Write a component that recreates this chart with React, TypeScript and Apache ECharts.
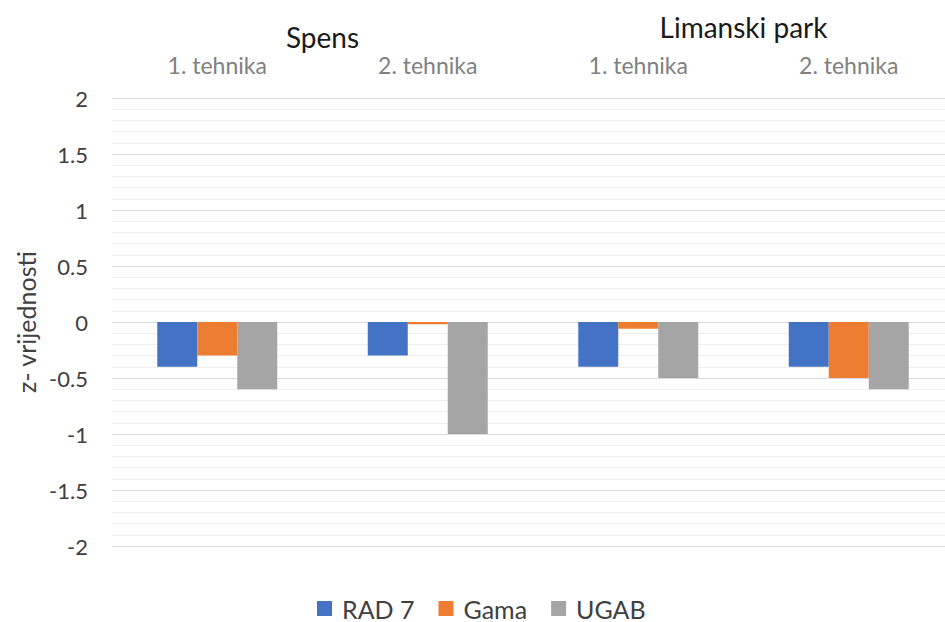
import React, { useEffect, useRef } from "react";
import * as echarts from "echarts";

const techniques = ["1. tehnika", "2. tehnika", "1. tehnika", "2. tehnika"];
const locations = ["Spens", "Limanski park"];
const rad7 = [-0.4, -0.3, -0.4, -0.4];
const gama = [-0.3, -0.02, -0.06, -0.5];
const ugab = [-0.6, -1.0, -0.5, -0.6];
const seriesNames = ["RAD 7", "Gama", "UGAB"];
const colors = ["#4472c4", "#ed7d31", "#a5a5a5"];

const FONT = "Lato";

export default function App() {
  const ref = useRef<HTMLDivElement>(null);
  useEffect(() => {
    if (!ref.current) return;
    const chart = echarts.init(ref.current, null, { renderer: "svg" });
    const data = [rad7, gama, ugab];
    chart.setOption({
      animation: false,
      textStyle: { fontFamily: FONT },
      grid: {
        left: 112,
        width: 842,
        top: 98,
        height: 448,
        containLabel: false,
        outerBoundsMode: "none",
      },
      legend: {
        top: 596,
        left: 317,
        padding: 0,
        itemWidth: 15,
        itemHeight: 15,
        itemGap: 24,
        icon: "rect",
        textStyle: {
          fontFamily: FONT,
          fontSize: 25,
          lineHeight: 25,
          color: "#404040",
          padding: [0, 0, 0, 5],
        },
        data: seriesNames,
      },
      xAxis: [
        {
          type: "category",
          data: techniques,
          position: "top",
          axisLine: { show: false },
          axisTick: { show: false },
          axisLabel: { fontFamily: FONT, fontSize: 23, color: "#808080", margin: 22 },
        },
        {
          type: "category",
          data: [
            { value: locations[0] },
            { value: locations[1], textStyle: { padding: [0, 0, 10, 0] } },
          ],
          position: "top",
          offset: 40,
          axisLine: { show: false },
          axisTick: { show: false },
          axisLabel: { fontFamily: FONT, fontSize: 28, color: "#1a1a1a", margin: 7 },
        },
      ],
      yAxis: {
        type: "value",
        min: -2,
        max: 2,
        interval: 0.5,
        name: "z- vrijednosti",
        nameLocation: "middle",
        nameGap: 72,
        nameRotate: 90,
        nameTextStyle: { fontFamily: FONT, fontSize: 25, color: "#404040" },
        axisLine: { show: false },
        axisTick: { show: false },
        axisLabel: { fontFamily: FONT, fontSize: 22, color: "#404040", margin: 24 },
        splitLine: { lineStyle: { color: "#d9d9d9", width: 1 } },
        minorTick: { show: false, splitNumber: 5 },
        minorSplitLine: { show: true, lineStyle: { color: "#eeeeee", width: 1 } },
      },
      series: data.map((d, i) => ({
        name: seriesNames[i],
        type: "bar",
        xAxisIndex: 0,
        data: d,
        barWidth: 40,
        barGap: "0%",
        itemStyle: { color: colors[i] },
      })),
    });
    return () => chart.dispose();
  }, []);
  return <div ref={ref} style={{ width: 945, height: 622, position: "absolute", left: 0, top: 0 }} />;
}
